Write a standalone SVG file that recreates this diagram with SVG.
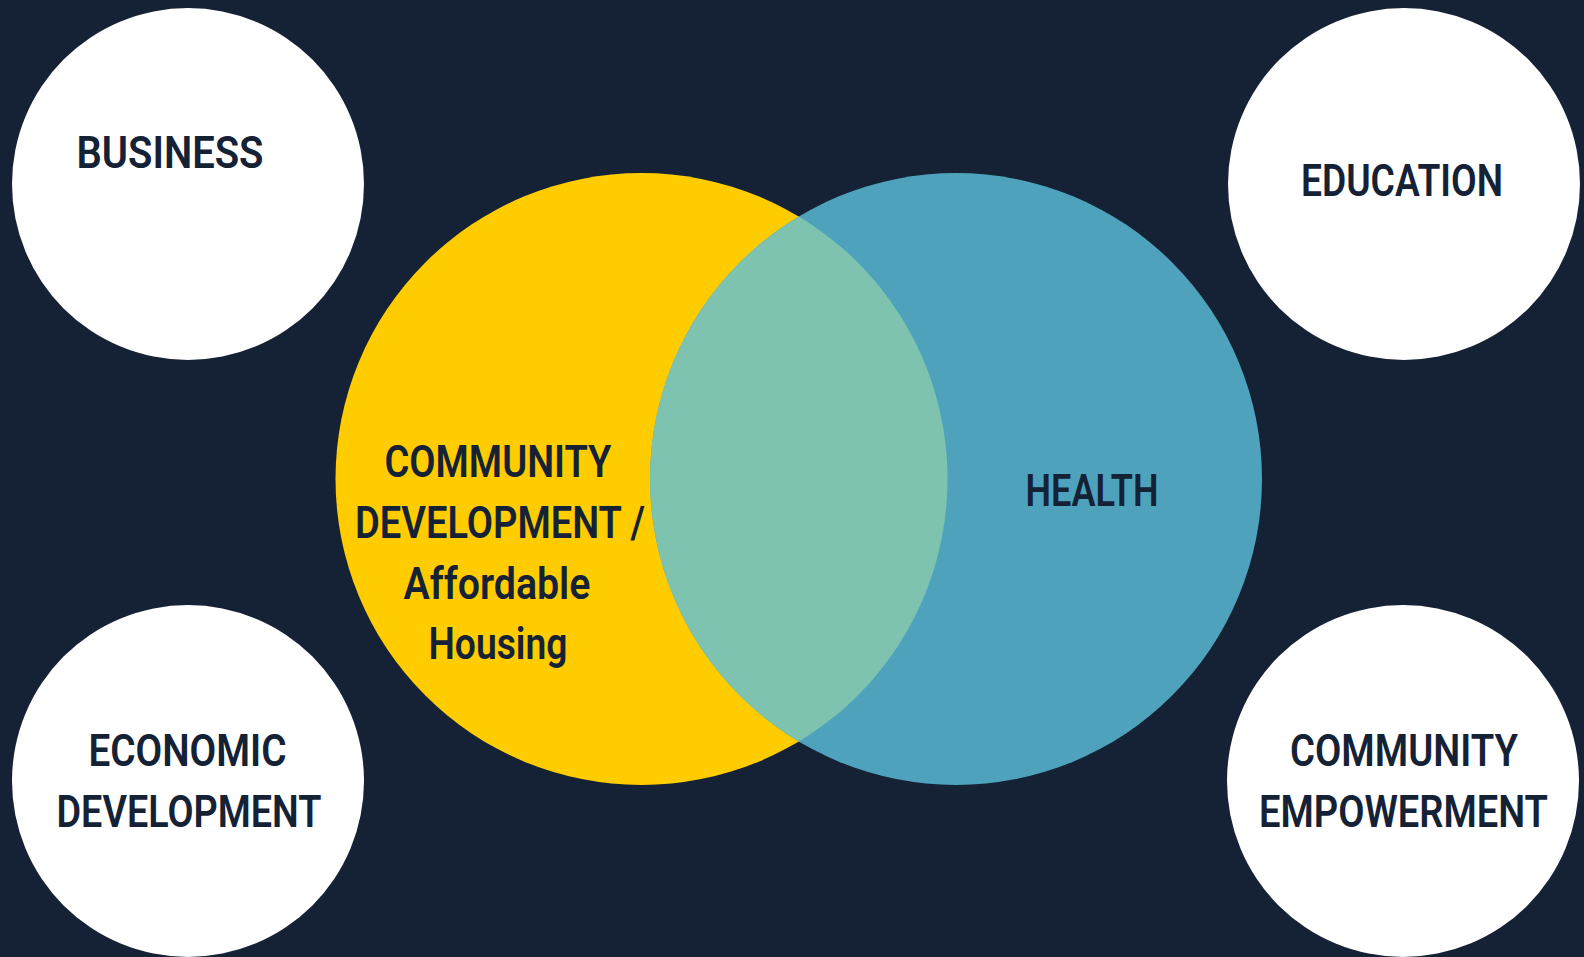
<svg xmlns="http://www.w3.org/2000/svg" width="1584" height="957" viewBox="0 0 1584 957">
  <style>
    .lbl { font-family: Roboto, "Liberation Sans", sans-serif; font-weight: 600; font-size: 45px; fill: #152236; }
    .white { fill: #ffffff; }
  </style>
  <rect x="0" y="0" width="1584" height="957" fill="#152236"/>

  <g id="venn">
    <g id="community-development">
      <circle cx="641.5" cy="479" r="306" fill="#FFCC00"/>
    </g>
    <g id="health">
      <circle cx="956" cy="479" r="306" fill="#4EA2BC"/>
    </g>
    <g id="overlap">
      <path d="M 798.75 216.5 A 306 306 0 0 1 798.75 741.5 A 306 306 0 0 1 798.75 216.5 Z" fill="#7DC3B0"/>
    </g>
    <text class="lbl" x="384.5" y="477" textLength="227" lengthAdjust="spacingAndGlyphs">COMMUNITY</text>
    <text class="lbl" x="355" y="538" textLength="290" lengthAdjust="spacingAndGlyphs">DEVELOPMENT /</text>
    <text class="lbl" x="403.5" y="599" textLength="187" lengthAdjust="spacingAndGlyphs">Affordable</text>
    <text class="lbl" x="428.5" y="659" textLength="139" lengthAdjust="spacingAndGlyphs">Housing</text>
    <text class="lbl" x="1025.5" y="506" textLength="133" lengthAdjust="spacingAndGlyphs">HEALTH</text>
  </g>

  <g id="business">
    <circle class="white" cx="188" cy="184" r="176"/>
    <text class="lbl" x="76.5" y="168" textLength="187" lengthAdjust="spacingAndGlyphs">BUSINESS</text>
  </g>

  <g id="education">
    <circle class="white" cx="1404" cy="184" r="176"/>
    <text class="lbl" x="1301" y="196" textLength="202" lengthAdjust="spacingAndGlyphs">EDUCATION</text>
  </g>

  <g id="economic-development">
    <circle class="white" cx="188" cy="781" r="176"/>
    <text class="lbl" x="88.5" y="766" textLength="198" lengthAdjust="spacingAndGlyphs">ECONOMIC</text>
    <text class="lbl" x="56.5" y="827" textLength="265" lengthAdjust="spacingAndGlyphs">DEVELOPMENT</text>
  </g>

  <g id="community-empowerment">
    <circle class="white" cx="1403" cy="781" r="176"/>
    <text class="lbl" x="1290" y="766" textLength="228" lengthAdjust="spacingAndGlyphs">COMMUNITY</text>
    <text class="lbl" x="1259" y="827" textLength="289" lengthAdjust="spacingAndGlyphs">EMPOWERMENT</text>
  </g>

  <g id="connectors"></g>
</svg>
